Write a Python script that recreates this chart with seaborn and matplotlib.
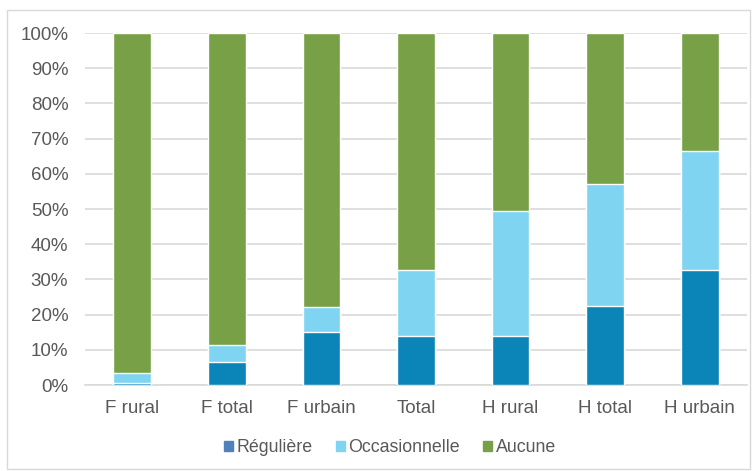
import numpy as np
import pandas as pd
import matplotlib.pyplot as plt
import seaborn as sns
from matplotlib.patches import Patch, Rectangle

categories = ['F rural', 'F total', 'F urbain', 'Total', 'H rural', 'H total', 'H urbain']
reguliere = [0.6, 6.5, 15.0, 14.0, 14.0, 22.5, 32.6]
occasionnelle = [2.8, 4.9, 7.2, 18.7, 35.4, 34.5, 33.8]
aucune = [100 - r - o for r, o in zip(reguliere, occasionnelle)]

df = pd.DataFrame({'cat': categories, 'reg': reguliere, 'occ': occasionnelle, 'auc': aucune})
df['reg_occ'] = df['reg'] + df['occ']
df['all'] = df['reg_occ'] + df['auc']

sns.set_theme(style='white')
plt.rcParams['font.family'] = ['Liberation Sans', 'DejaVu Sans']

fig = plt.figure(figsize=(7.52, 4.71), dpi=100)
ax = fig.add_axes([85 / 752, 86 / 471, 662 / 752, 352 / 471])

c_reg, c_occ, c_auc = '#0B84B7', '#7FD4F1', '#78A046'
w = 0.4
sns.barplot(data=df, x='cat', y='all', color=c_auc, width=w, saturation=1, ax=ax, zorder=2)
sns.barplot(data=df, x='cat', y='reg_occ', color=c_occ, width=w, saturation=1, ax=ax, zorder=3)
sns.barplot(data=df, x='cat', y='reg', color=c_reg, width=w, saturation=1, ax=ax, zorder=4)

ax.set_ylim(0, 100)
ax.set_xlim(-0.5, len(categories) - 0.5)
ax.set_yticks(np.arange(0, 101, 10))
ax.set_yticklabels([f'{v}%' for v in range(0, 101, 10)])
ax.yaxis.grid(True, color='#D9D9D9', linewidth=1.2, zorder=0)
ax.set_axisbelow(True)
ax.set_xlabel('')
ax.set_ylabel('')
for s in ['top', 'right', 'left']:
    ax.spines[s].set_visible(False)
ax.spines['bottom'].set_color('#D9D9D9')
ax.spines['bottom'].set_linewidth(1.2)
ax.tick_params(axis='both', colors='#595959', labelsize=13.5, length=0)
ax.tick_params(axis='x', pad=11)
ax.tick_params(axis='y', pad=12)

handles = [Patch(color='#4F81BD', label='Régulière'),
           Patch(color=c_occ, label='Occasionnelle'),
           Patch(color=c_auc, label='Aucune')]
leg = fig.legend(handles=handles, loc='center', bbox_to_anchor=(390 / 752, 23 / 471), ncol=3,
                 frameon=False, fontsize=12.8, handlelength=0.5, handleheight=0.5,
                 handletextpad=0.2, columnspacing=1.3)
for t in leg.get_texts():
    t.set_color('#595959')

fig.patches.append(Rectangle((7 / 752, 2 / 471), 743 / 752, 459 / 471, transform=fig.transFigure,
                             fill=False, edgecolor='#D9D9D9', linewidth=1))

fig.savefig('out.png', dpi=100)
